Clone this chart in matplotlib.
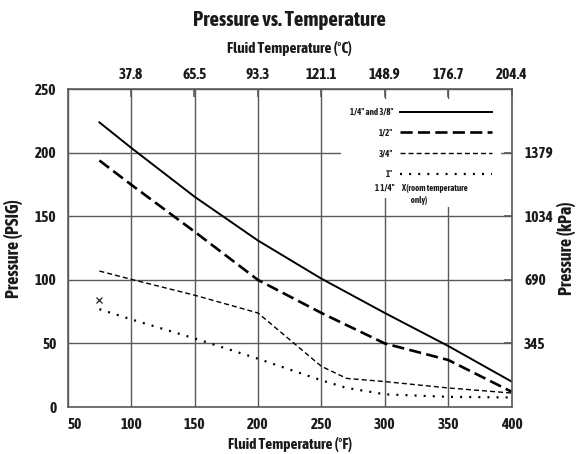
import matplotlib
matplotlib.use('Agg')
import matplotlib.pyplot as plt

# condensed bold face, close to the printed chart
plt.rcParams['font.family'] = ['Asap Condensed', 'DejaVu Sans']
plt.rcParams['font.weight'] = 'bold'
plt.rcParams['axes.labelweight'] = 'bold'
plt.rcParams['figure.titleweight'] = 'bold'

# data (deg F vs PSIG)
temp_f = [75, 100, 150, 200, 250, 300, 350, 400]
psi_quarter_3_8 = [224, 204, 165.5, 131, 101, 74, 48, 20]
psi_half = [194, 175, 138, 100, 74, 50, 37, 12]

temp_f_small = [75, 100, 150, 200, 250, 270, 300, 350, 400]
psi_three_quarter = [107, 100.5, 88, 74, 32, 22.5, 20, 15, 11]
psi_one = [77, 69, 54, 38, 21, 15, 10, 8, 7.5]

# 1 1/4" hose, room temperature only
x_room = [75]
psi_room = [84]

f_ticks = [50, 100, 150, 200, 250, 300, 350, 400]
psi_ticks = [0, 50, 100, 150, 200, 250]
c_ticks = [37.8, 65.5, 93.3, 121.1, 148.9, 176.7, 204.4]
kpa_ticks = [345, 690, 1034, 1379]

grid_col = '#5a5a5a'
txt_col = '#1a1a1a'

fig = plt.figure(figsize=(5.79, 4.54), dpi=100)
ax = fig.add_axes([0.1169, 0.1035, 0.7668, 0.6998])

ax.plot(temp_f, psi_quarter_3_8, color='black', lw=1.4, label='1/4" and 3/8"')
ax.plot(temp_f, psi_half, color='black', lw=1.9, dashes=(4.6, 2.0), label='1/2"')
ax.plot(temp_f_small, psi_three_quarter, color='black', lw=1.0, dashes=(3.6, 2.2), label='3/4"')
ax.plot(temp_f_small, psi_one, color='black', lw=1.6, dashes=(0.9, 3.2), label='1"')
ax.plot(x_room, psi_room, ls='none', marker='x', ms=4.5, mew=0.9, color='#222222')

ax.set_xlim(50, 400)
ax.set_ylim(0, 250)
ax.set_xticks(f_ticks)
ax.set_yticks(psi_ticks)
ax.grid(True, color=grid_col, lw=1.0)
ax.tick_params(length=0, labelsize=11, pad=8, labelcolor=txt_col)
ax.get_xticklabels()[0].set_horizontalalignment('left')
for s in ax.spines.values():
    s.set_color(grid_col)
    s.set_linewidth(1.2)

ax.set_xlabel('Fluid Temperature (°F)', fontsize=11, color=txt_col)
ax.xaxis.set_label_coords(0.5, -0.094, transform=ax.transAxes)
ax.set_ylabel('Pressure (PSIG)', fontsize=13, color=txt_col)
ax.yaxis.set_label_coords(-0.10, 0.5, transform=ax.transAxes)

# top axis in Celsius
secx = ax.secondary_xaxis('top', functions=(lambda f: (f - 32) / 1.8, lambda c: c * 1.8 + 32))
secx.set_xticks(c_ticks, labels=[f'{c:.1f}' for c in c_ticks])
secx.tick_params(direction='in', length=6, width=1.2, color=grid_col, labelsize=11, pad=5,
                 labelcolor=txt_col)
secx.spines['top'].set_visible(False)
secx.set_xlabel('Fluid Temperature (°C)', fontsize=11, color=txt_col)
secx.xaxis.set_label_coords(0.5, 1.114, transform=ax.transAxes)

# right axis in kPa
secy = ax.secondary_yaxis('right', functions=(lambda p: p * 6.895, lambda k: k / 6.895))
secy.set_yticks(kpa_ticks, labels=[str(k) for k in kpa_ticks])
secy.tick_params(direction='in', length=6, width=1.2, color=grid_col, labelsize=11, pad=9,
                 labelcolor=txt_col)
secy.spines['right'].set_visible(False)
secy.set_ylabel('Pressure (kPa)', fontsize=13, color=txt_col)
secy.yaxis.set_label_coords(1.102, 0.5, transform=ax.transAxes)

leg = ax.legend(loc='upper right', bbox_to_anchor=(0.975, 0.97), markerfirst=False,
                fontsize=6.3, handlelength=10.5, labelspacing=1.35, borderpad=1.0,
                borderaxespad=0, frameon=True, fancybox=False, framealpha=1,
                facecolor='white', edgecolor='none')
leg.set_zorder(3)
for t in leg.get_texts():
    t.set_color(txt_col)

ax.text(0.737, 0.689, '1 1/4"', transform=ax.transAxes, fontsize=6.3, ha='right', va='center',
        color=txt_col, zorder=4, bbox=dict(facecolor='white', edgecolor='none', pad=4))
ax.text(0.752, 0.669, 'X (room temperature\n       only)', transform=ax.transAxes, fontsize=6.3,
        ha='left', va='center', zorder=4, linespacing=1.3, color=txt_col,
        bbox=dict(facecolor='white', edgecolor='none', pad=2))

fig.suptitle('Pressure vs. Temperature', fontsize=15, y=0.956, va='center', color=txt_col)

fig.savefig('out.png', dpi=100)
